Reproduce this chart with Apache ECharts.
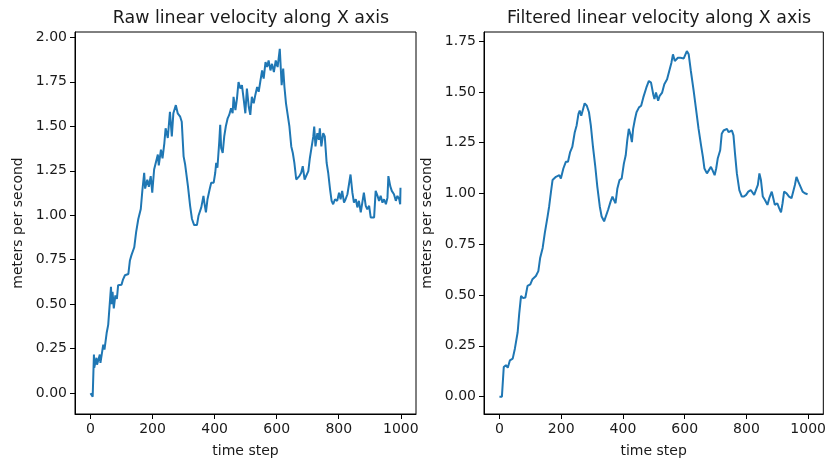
<!DOCTYPE html>
<html>
<head>
<meta charset="utf-8">
<script src="https://cdn.jsdelivr.net/npm/echarts@6/dist/echarts.min.js"></script>
<style>html,body{margin:0;padding:0;background:#fff;}#c{width:829px;height:463px;}</style>
</head>
<body>
<div id="c"></div>
<script>
var titles = ['Raw linear velocity along X axis', 'Filtered linear velocity along X axis'];
var xAxisLabel = 'time step';
var yAxisLabel = 'meters per second';
var xTicks = [0, 200, 400, 600, 800, 1000];
var yTicksRaw = [0, 0.25, 0.5, 0.75, 1.0, 1.25, 1.5, 1.75, 2.0];
var yTicksFilt = [0, 0.25, 0.5, 0.75, 1.0, 1.25, 1.5, 1.75];

var rawT = [0,7,11,12,19,21,30,32,41,45,52,57,60,66,68,71,75,80,85,89,100,105,111,122,127,132,141,147,154,162,167,173,176,183,188,194,199,205,210,217,220,227,232,238,242,249,256,262,267,275,281,289,294,300,305,314,321,327,334,343,348,357,364,367,372,377,384,389,397,402,405,409,415,418,421,426,431,436,442,447,453,458,461,467,472,477,483,488,494,499,504,510,515,520,526,531,537,542,547,553,558,564,569,574,580,585,591,597,603,610,616,621,625,630,636,641,647,652,657,663,668,673,679,684,690,696,702,707,712,718,721,725,731,736,739,744,750,755,761,766,772,777,782,788,795,801,806,811,817,822,828,833,838,844,849,855,860,865,871,876,881,887,892,898,903,908,914,919,925,930,935,941,946,952,957,960,966,971,978,984,989,995,998,999];
var rawV = [0,-0.02,0.217,0.143,0.199,0.16,0.217,0.17,0.273,0.245,0.338,0.384,0.39,0.598,0.5,0.57,0.477,0.55,0.53,0.607,0.61,0.64,0.663,0.67,0.746,0.776,0.82,0.905,0.979,1.035,1.137,1.239,1.15,1.2,1.16,1.22,1.127,1.257,1.25,1.341,1.28,1.369,1.32,1.406,1.489,1.434,1.582,1.443,1.573,1.619,1.573,1.554,1.526,1.331,1.285,1.164,1.053,0.979,0.945,0.945,0.997,1.044,1.109,1.07,1.016,1.09,1.146,1.183,1.183,1.239,1.294,1.267,1.415,1.508,1.378,1.35,1.443,1.499,1.545,1.564,1.601,1.573,1.666,1.591,1.656,1.749,1.712,1.731,1.647,1.573,1.712,1.61,1.564,1.666,1.629,1.675,1.721,1.694,1.749,1.814,1.768,1.861,1.833,1.87,1.814,1.851,1.805,1.87,1.833,1.935,1.731,1.824,1.721,1.629,1.619,1.499,1.387,1.35,1.294,1.201,1.192,1.22,1.239,1.276,1.201,1.192,1.248,1.322,1.322,1.443,1.499,1.387,1.461,1.424,1.489,1.387,1.461,1.443,1.294,1.239,1.146,1.081,1.062,1.09,1.081,1.127,1.09,1.137,1.071,1.09,1.118,1.109,1.229,1.127,1.071,1.09,1.044,1.081,1.016,1.071,1.127,1.053,1.034,1.053,0.988,0.997,0.988,1.137,1.109,1.081,1.109,1.071,1.09,1.062,1.099,1.22,1.164,1.137,1.118,1.081,1.109,1.09,1.062,1.155];

var filtT = [0,8,14,21,27,34,43,50,59,64,70,77,84,91,100,107,118,126,132,140,147,156,161,167,172,177,183,188,194,199,207,215,222,229,236,244,250,256,260,265,271,276,283,290,296,303,310,317,325,331,339,345,352,360,366,371,376,382,389,396,403,409,414,419,425,429,433,439,444,452,459,466,471,476,484,491,498,502,507,514,519,527,534,543,550,557,562,568,573,578,586,591,597,602,607,613,620,629,636,645,653,659,664,672,677,685,690,697,702,707,715,720,726,731,737,742,747,753,758,763,769,777,785,792,799,806,814,820,825,830,837,842,847,853,860,868,874,882,887,892,900,906,912,917,922,930,938,946,952,957,962,968,975,982,989,998];
var filtV = [0,0,0.146,0.155,0.142,0.179,0.187,0.236,0.317,0.407,0.496,0.485,0.488,0.545,0.553,0.578,0.594,0.618,0.684,0.732,0.806,0.887,0.936,1.009,1.066,1.058,1.082,1.074,1.09,1.074,1.123,1.156,1.156,1.204,1.229,1.302,1.335,1.392,1.408,1.383,1.416,1.444,1.432,1.4,1.335,1.229,1.139,1.034,0.936,0.887,0.863,0.871,0.92,0.96,0.985,0.968,0.952,1.025,1.066,1.074,1.147,1.188,1.261,1.318,1.286,1.253,1.318,1.367,1.4,1.424,1.432,1.473,1.481,1.522,1.554,1.546,1.489,1.465,1.497,1.457,1.481,1.497,1.538,1.562,1.603,1.644,1.685,1.652,1.644,1.668,1.668,1.676,1.665,1.672,1.701,1.685,1.603,1.506,1.424,1.318,1.237,1.18,1.123,1.099,1.107,1.131,1.115,1.09,1.123,1.172,1.213,1.294,1.31,1.302,1.318,1.302,1.294,1.31,1.286,1.196,1.099,1.017,0.985,0.985,0.993,1.009,1.017,1.009,0.993,0.993,1.042,1.099,1.066,0.985,0.968,0.944,0.977,1.009,0.977,0.944,0.952,0.928,0.907,0.952,1.009,1.001,0.985,0.977,0.985,1.042,1.082,1.058,1.034,1.009,1.001,0.996];

function pairs(t, v) { return t.map(function (x, i) { return [x, v[i]]; }); }

var FONT = 'DejaVu Sans';
var TXT = '#1a1a1a';

function xAx(idx) {
  return {
    type: 'value', gridIndex: idx, min: -50, max: 1049, position: 'bottom',
    name: xAxisLabel, nameLocation: 'middle', nameGap: 30,
    nameTextStyle: { fontFamily: FONT, fontSize: 14, color: TXT },
    axisLine: { show: true, onZero: false, lineStyle: { color: '#000', width: 1 } },
    splitLine: { show: false },
    axisTick: { show: true, inside: false, length: 5, customValues: xTicks, lineStyle: { color: '#000', width: 1 } },
    axisLabel: { show: true, margin: 8, customValues: xTicks, fontFamily: FONT, fontSize: 14, color: TXT,
      formatter: function (v) { return String(v); } }
  };
}
function yAx(idx, mn, mx, ticks) {
  return {
    type: 'value', gridIndex: idx, min: mn, max: mx, position: 'left',
    name: yAxisLabel, nameLocation: 'middle', nameGap: 50, nameRotate: 90,
    nameTextStyle: { fontFamily: FONT, fontSize: 14, color: TXT },
    axisLine: { show: true, onZero: false, lineStyle: { color: '#000', width: 1 } },
    splitLine: { show: false },
    axisTick: { show: true, inside: false, length: 5, customValues: ticks, lineStyle: { color: '#000', width: 1 } },
    axisLabel: { show: true, margin: 8, customValues: ticks, fontFamily: FONT, fontSize: 14, color: TXT,
      formatter: function (v) { return v.toFixed(2); } }
  };
}

var chart = echarts.init(document.getElementById('c'), null, { renderer: 'canvas' });
chart.setOption({
  animation: false,
  backgroundColor: '#fff',
  title: [
    { text: titles[0], left: 246, top: 5, textAlign: 'center', textStyle: { fontFamily: FONT, fontSize: 17.4, fontWeight: 'normal', color: TXT } },
    { text: titles[1], left: 654, top: 5, textAlign: 'center', textStyle: { fontFamily: FONT, fontSize: 17.4, fontWeight: 'normal', color: TXT } }
  ],
  grid: [
    { left: 75, top: 32, width: 341, height: 384, show: true, borderColor: '#000', borderWidth: 1, backgroundColor: 'transparent' },
    { left: 484, top: 32, width: 340, height: 384, show: true, borderColor: '#000', borderWidth: 1, backgroundColor: 'transparent' }
  ],
  xAxis: [xAx(0), xAx(1)],
  yAxis: [yAx(0, -0.117, 2.03, yTicksRaw), yAx(1, -0.0855, 1.795, yTicksFilt)],
  series: [
    { type: 'line', xAxisIndex: 0, yAxisIndex: 0, data: pairs(rawT, rawV), showSymbol: false, symbol: 'none',
      lineStyle: { color: '#1f77b4', width: 2 }, itemStyle: { color: '#1f77b4' } },
    { type: 'line', xAxisIndex: 1, yAxisIndex: 1, data: pairs(filtT, filtV), showSymbol: false, symbol: 'none',
      lineStyle: { color: '#1f77b4', width: 2 }, itemStyle: { color: '#1f77b4' } }
  ]
});
</script>
</body>
</html>
